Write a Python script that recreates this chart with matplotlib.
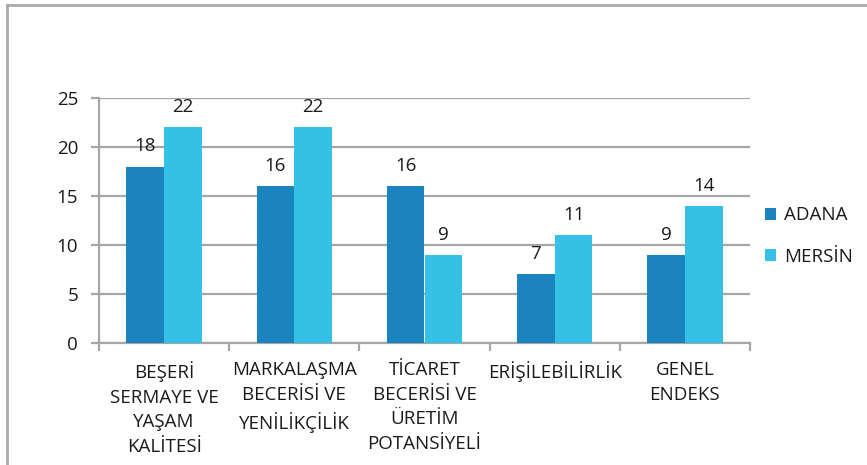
import matplotlib
matplotlib.use("Agg")
import matplotlib.pyplot as plt
from matplotlib.lines import Line2D
import numpy as np

plt.rcParams['font.family'] = ['Open Sans', 'DejaVu Sans']

categories = ["BEŞERİ\nSERMAYE VE\nYAŞAM\nKALİTESİ",
              "MARKALAŞMA\nBECERİSİ VE\nYENİLİKÇİLİK",
              "TİCARET\nBECERİSİ VE\nÜRETİM\nPOTANSİYELİ",
              "ERİŞİLEBİLİRLİK",
              "GENEL\nENDEKS"]
adana = [18, 16, 16, 7, 9]
mersin = [22, 22, 9, 11, 14]
series_names = ["ADANA", "MERSİN"]
yticks = [0, 5, 10, 15, 20, 25]

c_adana = "#1B84BF"
c_mersin = "#35C0E6"
grid_c = "#A6A6A6"
text_c = "#1A1A1A"
fs = 13.5

W, H = 867, 465
fig = plt.figure(figsize=(W / 100, H / 100), dpi=100)
ax = fig.add_axes([99 / W, (H - 343) / H, (750 - 99) / W, (343 - 98) / H])

x = np.arange(len(categories))
bw = 0.29
b1 = ax.bar(x - bw / 2, adana, bw, color=c_adana, label=series_names[0], zorder=3)
b2 = ax.bar(x + bw / 2, mersin, bw, color=c_mersin, label=series_names[1], zorder=3)

for bars in (b1, b2):
    for rect, v in zip(bars, bars.datavalues):
        ax.annotate(f"{v:g}", (rect.get_x() + rect.get_width() / 2, v),
                    xytext=(0, 8), textcoords="offset points",
                    ha="center", va="bottom", fontsize=fs, color=text_c)

ax.set_xlim(-0.5, len(categories) - 0.5)
ax.set_ylim(0, 25)
ax.set_yticks(yticks)
ax.yaxis.grid(True, color=grid_c, linewidth=1.6, zorder=0)
ax.set_axisbelow(True)

for s in ("top", "right"):
    ax.spines[s].set_visible(False)
for s in ("left", "bottom"):
    ax.spines[s].set_color(grid_c)
    ax.spines[s].set_linewidth(1.6)

ax.tick_params(axis="y", direction="out", length=6, width=1.6, color=grid_c,
               labelsize=fs, labelcolor=text_c, pad=9)
# category boundaries carry the x ticks; labels sit at group centres
ax.set_xticks(np.arange(len(categories) + 1) - 0.5)
ax.set_xticklabels([])
ax.tick_params(axis="x", direction="out", length=6, width=1.6, color=grid_c)
for xi, lab in zip(x, categories):
    ax.annotate(lab, (xi, 0), xytext=(0, -13), textcoords="offset points",
                ha="center", va="top", fontsize=fs, color=text_c,
                linespacing=1.48, annotation_clip=False)

leg = fig.legend(handles=[b1, b2], labels=series_names,
                 loc="center left", bbox_to_anchor=(748 / W, 1 - 236 / H),
                 frameon=False, fontsize=fs, handlelength=0.6, handleheight=0.6,
                 handletextpad=0.4, labelspacing=1.25, labelcolor=text_c)

# outer chart frame
fig.add_artist(Line2D([7 / W, 7 / W], [0, 1 - 5 / H], transform=fig.transFigure,
                      color="#ABABAB", linewidth=2))
fig.add_artist(Line2D([7 / W, 1], [1 - 5 / H, 1 - 5 / H], transform=fig.transFigure,
                      color="#ABABAB", linewidth=2))

fig.savefig("out.png", dpi=100, facecolor="white")
